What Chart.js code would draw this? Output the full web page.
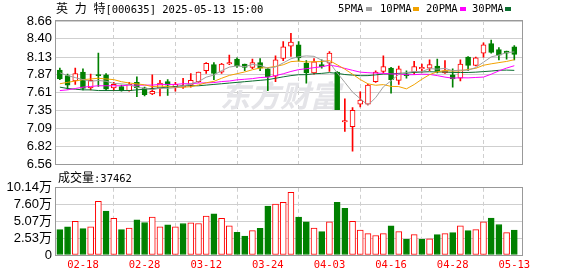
<!DOCTYPE html>
<html>
<head>
<meta charset="utf-8">
<script src="https://cdn.jsdelivr.net/npm/chart.js@4.4.1/dist/chart.umd.min.js"></script>
<style>
  body { margin: 0; background: #fff; }
  #wrap { position: relative; width: 578px; height: 276px; overflow: hidden;
          font-family: "DejaVu Sans Mono", "Noto Sans CJK SC", monospace; font-size: 10.5px; color: #000; }
  canvas { position: absolute; left: 0; }
  #priceChart { top: 0; }
  #volChart { top: 176px; }
  .txt { position: absolute; white-space: pre; line-height: 14px; }
  .cjk { font-family: "Noto Sans CJK SC"; font-size: 12px; }
  .sp { word-spacing: 4px; }
  .key { position: absolute; width: 6px; height: 4px; }
</style>
</head>
<body>
<div id="wrap">
  <canvas id="priceChart" width="578" height="176"></canvas>
  <canvas id="volChart" width="578" height="100"></canvas>
  <div class="txt" style="left:56px;top:1px"><span class="cjk sp">英 力 特</span>[000635] 2025-05-13 15:00</div>
  <div class="txt" style="left:58px;top:170px"><span class="cjk">成交量</span>:37462</div>
</div>
<script>
// 日期 (交易日)
const dates = ["02-13","02-14","02-17","02-18","02-19","02-20","02-21","02-24","02-25","02-26",
  "02-27","02-28","03-03","03-04","03-05","03-06","03-07","03-10","03-11","03-12",
  "03-13","03-14","03-17","03-18","03-19","03-20","03-21","03-24","03-25","03-26",
  "03-27","03-28","03-31","04-01","04-02","04-03","04-07","04-08","04-09","04-10",
  "04-11","04-14","04-15","04-16","04-17","04-18","04-21","04-22","04-23","04-24",
  "04-25","04-28","04-29","04-30","05-06","05-07","05-08","05-09","05-12","05-13"];

// K线 开 高 低 收
const openP = [7.94,7.86,7.78,7.91,7.68,7.87,7.87,7.68,7.70,7.64,
  7.76,7.68,7.59,7.67,7.77,7.69,7.69,7.72,7.77,7.93,
  8.02,7.91,8.03,8.10,8.03,7.98,8.05,7.96,7.85,8.11,
  8.29,8.31,8.04,7.90,8.02,8.04,7.91,7.18,7.11,7.44,
  7.44,7.77,7.92,7.97,7.79,7.88,7.91,7.96,7.97,8.00,
  7.90,7.87,7.82,8.13,8.01,8.19,8.33,8.24,8.22,8.28];
const highP = [7.97,7.88,7.97,7.96,7.88,8.19,7.89,7.76,7.72,7.76,
  7.84,7.69,7.87,7.79,7.80,7.76,7.82,7.89,7.91,8.05,
  8.05,8.04,8.16,8.12,8.03,8.10,8.11,7.97,8.15,8.36,
  8.48,8.36,8.08,8.11,8.09,8.21,7.92,7.52,7.39,7.62,
  7.73,7.93,8.15,7.98,8.00,7.93,8.07,8.03,8.09,8.10,
  8.08,7.96,8.09,8.14,8.13,8.34,8.38,8.27,8.22,8.30];
const lowP = [7.80,7.66,7.73,7.65,7.65,7.70,7.64,7.64,7.63,7.63,
  7.55,7.56,7.58,7.56,7.57,7.63,7.67,7.69,7.76,7.89,
  7.80,7.89,8.02,7.98,7.93,7.96,7.93,7.64,7.77,8.08,
  8.14,8.07,7.75,7.88,7.97,7.92,7.36,7.04,6.75,7.40,
  7.43,7.76,7.90,7.60,7.73,7.82,7.88,7.91,7.93,7.90,
  7.89,7.69,7.78,7.93,8.00,8.13,8.19,8.09,8.10,8.09];
const closeP = [7.81,7.72,7.89,7.67,7.79,7.86,7.66,7.73,7.64,7.73,
  7.68,7.58,7.63,7.75,7.72,7.73,7.71,7.79,7.91,8.04,
  7.89,8.03,8.05,8.00,7.98,8.05,7.97,7.84,8.09,8.28,
  8.35,8.12,7.90,8.06,7.99,8.19,7.36,7.20,7.35,7.50,
  7.72,7.91,7.99,7.80,7.96,7.86,7.99,7.98,8.02,7.92,
  7.93,7.81,8.03,8.01,8.12,8.31,8.20,8.16,8.19,8.17];
const prevClose = 7.85;

// 成交量 (手)
const volumes = [38210,42620,50950,39680,42620,80830,66130,55370,38210,40660,
  52910,48980,57310,42620,45560,42620,47520,48500,47520,58780,
  62210,55370,44090,34290,28410,36740,40170,73970,76910,79360,
  94540,57310,49970,40660,35270,49970,79360,70540,50950,37720,
  32330,29390,32330,44090,35270,23510,30860,23510,24490,30860,
  32330,33800,44090,36740,38210,49970,55840,46050,33800,37462];

// 均线
const ma5 = [7.90,7.86,7.83,7.80,7.776,7.788,7.776,7.744,7.738,7.726,
  7.688,7.672,7.652,7.674,7.672,7.682,7.708,7.74,7.772,7.836,
  7.868,7.932,7.984,8.002,7.99,8.022,8.01,7.968,7.986,8.046,
  8.106,8.136,8.148,8.142,8.084,8.052,7.90,7.76,7.618,7.52,
  7.426,7.536,7.694,7.784,7.876,7.904,7.92,7.918,7.962,7.954,
  7.966,7.93,7.94,7.938,7.978,8.056,8.134,8.16,8.196,8.206];
const ma10 = [7.74,7.76,7.78,7.80,7.81,7.82,7.81,7.80,7.77,7.751,
  7.738,7.724,7.698,7.706,7.699,7.685,7.69,7.696,7.723,7.754,
  7.775,7.82,7.862,7.887,7.913,7.945,7.971,7.976,7.994,8.018,
  8.064,8.073,8.058,8.064,8.065,8.079,8.018,7.954,7.88,7.802,
  7.739,7.718,7.727,7.701,7.698,7.665,7.728,7.806,7.873,7.915,
  7.935,7.925,7.929,7.95,7.966,8.011,8.032,8.05,8.067,8.092];
const ma20 = [7.64,7.65,7.67,7.69,7.70,7.71,7.71,7.71,7.71,7.72,
  7.72,7.72,7.72,7.73,7.73,7.73,7.74,7.74,7.75,7.753,
  7.757,7.772,7.78,7.797,7.806,7.815,7.831,7.836,7.859,7.886,
  7.92,7.947,7.96,7.976,7.989,8.012,7.995,7.965,7.937,7.91,
  7.902,7.896,7.893,7.883,7.882,7.872,7.873,7.88,7.877,7.859,
  7.837,7.822,7.828,7.826,7.832,7.838,7.88,7.928,7.97,8.004];
const ma30 = [7.69,7.67,7.66,7.65,7.65,7.64,7.64,7.64,7.64,7.64,
  7.65,7.66,7.67,7.68,7.69,7.70,7.71,7.71,7.71,7.72,
  7.73,7.74,7.75,7.76,7.77,7.78,7.79,7.80,7.82,7.841,
  7.859,7.872,7.873,7.886,7.892,7.903,7.893,7.875,7.866,7.858,
  7.859,7.87,7.882,7.884,7.892,7.896,7.906,7.912,7.916,7.912,
  7.913,7.905,7.905,7.905,7.91,7.918,7.926,7.937,7.94,7.936];

// 刻度
const priceTicks = ["8.66","8.40","8.13","7.87","7.61","7.35","7.09","6.82","6.56"];
const volTicks = ["0","2.53万","5.07万","7.60万","10.14万"];
const dateTicks = ["02-18","02-28","03-12","03-24","04-03","04-16","04-28","05-13"];

const maNames = ["5PMA","10PMA","20PMA","30PMA"];
const maColors = ["#a0a0a0","#f2a200","#ff00ff","#0b6e2f"];
const maLines = [ma5, ma10, ma20, ma30];

const UP = "#ff0000";
const DOWN = "#008000";
const GRID = "#cfcfcf";
const axisFont = { family: '"Liberation Sans", "Noto Sans CJK SC"', size: 13 };

// 图例
const legendX = [338, 380, 426, 472];
const keyX = [366, 413, 460, 505];
const wrap = document.getElementById("wrap");
maNames.forEach((name, k) => {
    const t = document.createElement("div");
    t.className = "txt";
    t.style.left = legendX[k] + "px";
    t.style.top = "1px";
    t.textContent = name;
    wrap.appendChild(t);
    const r = document.createElement("div");
    r.className = "key";
    r.style.left = keyX[k] + "px";
    r.style.top = "7px";
    r.style.background = maColors[k];
    wrap.appendChild(r);
});

const idx = dates.map((d, i) => i);
const tickIdx = dateTicks.map(d => dates.indexOf(d));
const candleUp = idx.map(i => closeP[i] >= openP[i]);
const volUp = idx.map(i => closeP[i] >= (i ? closeP[i - 1] : prevClose));

// 边框
const frame = {
    id: "frame",
    afterDraw(chart) {
        const { ctx, chartArea: a } = chart;
        ctx.save();
        ctx.strokeStyle = "#999";
        ctx.lineWidth = 1;
        ctx.strokeRect(Math.round(a.left) - 0.5, Math.round(a.top) - 0.5,
            Math.round(a.right - a.left) + 1, Math.round(a.bottom - a.top) + 1);
        ctx.restore();
    }
};

// 水印
const watermark = {
    id: "watermark",
    beforeDatasetsDraw(chart) {
        const ctx = chart.ctx;
        ctx.save();
        ctx.font = 'italic bold 30px "Noto Sans CJK SC"';
        ctx.fillStyle = "#e4e4e8";
        ctx.textAlign = "center";
        ctx.textBaseline = "middle";
        ctx.fillText("东方财富", 280, 96);
        ctx.restore();
    }
};

function xScale(extra) {
    return Object.assign({
        type: "linear",
        min: -0.5,
        max: 60,
        offset: false,
        afterBuildTicks: s => { s.ticks = tickIdx.map(v => ({ value: v })); },
        grid: { color: GRID, lineWidth: 1, drawTicks: false },
        border: { display: false, dash: [4, 3] }
    }, extra);
}

// K线图
new Chart(document.getElementById("priceChart"), {
    type: "bar",
    data: {
        datasets: [
            ...maLines.map((m, k) => ({
                type: "line",
                label: maNames[k],
                data: idx.map(i => ({ x: i, y: m[i] })),
                borderColor: maColors[k],
                borderWidth: 1,
                pointRadius: 0,
                tension: 0,
                order: 0
            })),
            {
                label: "body",
                data: idx.map(i => ({ x: i, y: [openP[i], closeP[i]] })),
                backgroundColor: idx.map(i => candleUp[i] ? "#fff" : DOWN),
                borderColor: idx.map(i => candleUp[i] ? UP : DOWN),
                borderWidth: 1,
                borderSkipped: false,
                barThickness: 5,
                minBarLength: 1,
                grouped: false,
                order: 1
            },
            {
                label: "wick",
                data: idx.map(i => ({ x: i, y: [lowP[i], highP[i]] })),
                backgroundColor: idx.map(i => candleUp[i] ? UP : DOWN),
                borderWidth: 0,
                barThickness: 1,
                grouped: false,
                order: 2
            }
        ]
    },
    options: {
        responsive: false,
        animation: false,
        events: [],
        layout: { padding: { left: 0, right: 56, top: 21, bottom: 11 } },
        plugins: { legend: { display: false }, tooltip: { enabled: false } },
        scales: {
            x: xScale({ afterFit: s => { s.height = 0; }, ticks: { display: false } }),
            y: {
                min: 6.56,
                max: 8.66,
                afterBuildTicks: s => { s.ticks = priceTicks.map(t => ({ value: parseFloat(t) })).reverse(); },
                afterFit: s => { s.width = 56; },
                ticks: { padding: 4, color: "#000", font: axisFont, autoSkip: false, callback: v => v.toFixed(2) },
                grid: { color: GRID, drawTicks: false },
                border: { display: false }
            }
        }
    },
    plugins: [watermark, frame]
});

// 成交量图
new Chart(document.getElementById("volChart"), {
    type: "bar",
    data: {
        datasets: [{
            label: "成交量",
            data: idx.map(i => ({ x: i, y: volumes[i] })),
            backgroundColor: idx.map(i => volUp[i] ? "#fff" : DOWN),
            borderColor: idx.map(i => volUp[i] ? UP : DOWN),
            borderWidth: 1,
            borderSkipped: false,
            barThickness: 6
        }]
    },
    options: {
        responsive: false,
        animation: false,
        events: [],
        layout: { padding: { left: 0, right: 56, top: 10, bottom: 0 } },
        plugins: { legend: { display: false }, tooltip: { enabled: false } },
        scales: {
            x: xScale({
                afterFit: s => { s.height = 21; },
                ticks: {
                    color: UP,
                    padding: 4,
                    autoSkip: false,
                    maxRotation: 0,
                    font: { family: '"DejaVu Sans Mono"', size: 10.5 },
                    callback: v => dates[v]
                }
            }),
            y: {
                min: 0,
                max: 101400,
                afterBuildTicks: s => { s.ticks = volTicks.map(t => ({ value: parseFloat(t) * 10000 })); },
                afterFit: s => { s.width = 56; },
                ticks: { padding: 4, color: "#000", font: axisFont, autoSkip: false, callback: (v, i) => volTicks[i] },
                grid: { color: GRID, drawTicks: false },
                border: { display: false }
            }
        }
    },
    plugins: [frame]
});
</script>
</body>
</html>
